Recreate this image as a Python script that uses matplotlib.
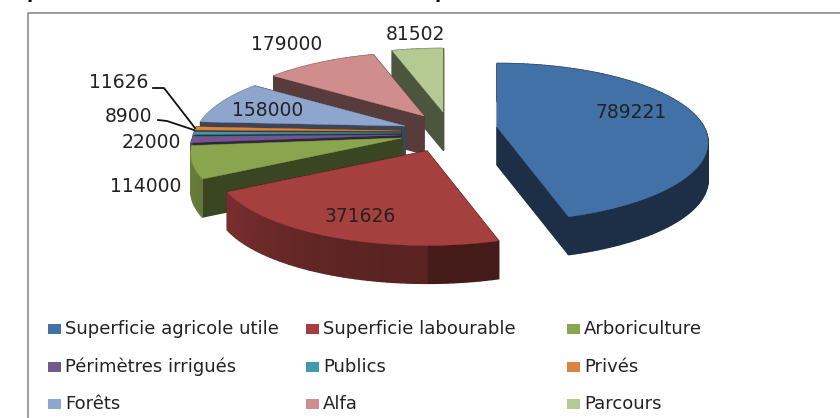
import numpy as np
import matplotlib
matplotlib.use("Agg")
import matplotlib.pyplot as plt
from matplotlib.colors import to_rgb
from matplotlib.patches import Polygon, Rectangle

categories = ["Superficie agricole utile", "Superficie labourable", "Arboriculture",
              "Périmètres irrigués", "Publics", "Privés",
              "Forêts", "Alfa", "Parcours"]
values = [789221, 371626, 114000, 22000, 8900, 11626, 158000, 179000, 81502]
colors = ["#4271a8", "#a5403e", "#89a54e", "#71588f", "#4198af", "#db843d",
          "#8ea5cd", "#cf8e8d", "#b5ca92"]

# where each exploded slice has its tip, in pixels
tips = [(497, 127), (427, 151), (402, 138), (401, 135), (401, 133), (401, 131),
        (405, 126), (424, 116), (443, 112)]

RADIUS = 207
FLAT = 76
PERSP = 0.195
DEPTH = 38

label_pos = [(631, 113), (360, 217), (146, 187), (151, 143), (129, 116), (119, 83),
             (268, 111), (287, 45), (415, 35)]


def project(tip, theta):
    # theta clockwise from 12 o'clock, slightly wider near the viewer
    u, v = np.sin(theta), np.cos(theta)
    f = 1 / (1 + PERSP * v)
    return tip[0] + RADIUS * u * f, tip[1] - FLAT * v * f


def shade(col, k):
    return tuple(c * k for c in to_rgb(col))


def draw_slice(ax, tip, start, stop, col):
    thetas = np.linspace(start, stop, max(int((stop - start) * 40), 3))
    rim = np.array([project(tip, t) for t in thetas])
    walls = []
    # flat cut faces
    for p in (rim[0], rim[-1]):
        quad = [tip, p, (p[0], p[1] + DEPTH), (tip[0], tip[1] + DEPTH)]
        walls.append((np.mean([q[1] for q in quad]), quad, shade(col, 0.42)))
    # curved outer face, lighter towards the left
    for i in range(len(rim) - 1):
        a, b = rim[i], rim[i + 1]
        quad = [a, b, (b[0], b[1] + DEPTH), (a[0], a[1] + DEPTH)]
        u = np.sin((thetas[i] + thetas[i + 1]) / 2)
        k = 0.42 + 0.25 * max(-u, 0) ** 2 + (0.0 if u > 0 else 0.12)
        walls.append((np.mean([q[1] for q in quad]), quad, shade(col, k)))
    for _, quad, c in sorted(walls, key=lambda w: w[0]):
        ax.add_patch(Polygon(quad, closed=True, fc=c, ec=c, lw=1.0))
    top = np.vstack([[tip], rim])
    ax.add_patch(Polygon(top, closed=True, fc=col, ec=col, lw=0.3))


fig = plt.figure(figsize=(8.4, 4.18), dpi=100)
ax = fig.add_axes([0, 0, 1, 1])
ax.set_xlim(0, 840)
ax.set_ylim(418, 0)
ax.axis("off")

# chart frame, runs off the right and bottom of the picture
ax.plot([27.5, 27.5, 840], [418, 12.5, 12.5], color="#8c8c8c", lw=1.2)

# descenders of the heading cut off above the picture
ax.text(26, -2, "p", fontsize=13, fontweight="bold", color="#111111", va="baseline")
ax.text(435, -2, "p", fontsize=13, fontweight="bold", color="#111111", va="baseline")

angles = np.cumsum([0] + values) / sum(values) * 2 * np.pi
for i in reversed(range(len(values))):
    draw_slice(ax, tips[i], angles[i], angles[i + 1], colors[i])

# leader lines for the two thinnest slices
ax.plot([153, 164, 195], [88, 88, 128], color="#111111", lw=1.3)
ax.plot([158, 167, 194], [120, 121, 130], color="#111111", lw=1.3)

for val, (x, y) in zip(values, label_pos):
    ax.text(x, y, str(val), fontsize=13.5, color="#222222", ha="center", va="center")

legend_x = [48, 306, 567]
legend_y = [329, 367, 404]
for i, name in enumerate(categories):
    x = legend_x[i % 3]
    y = legend_y[i // 3]
    ax.add_patch(Rectangle((x, y - 5), 13, 10, fc=colors[i], ec="none"))
    ax.text(x + 17, y, name, fontsize=13, color="#222222", va="center")

fig.savefig("out.png", dpi=100)
